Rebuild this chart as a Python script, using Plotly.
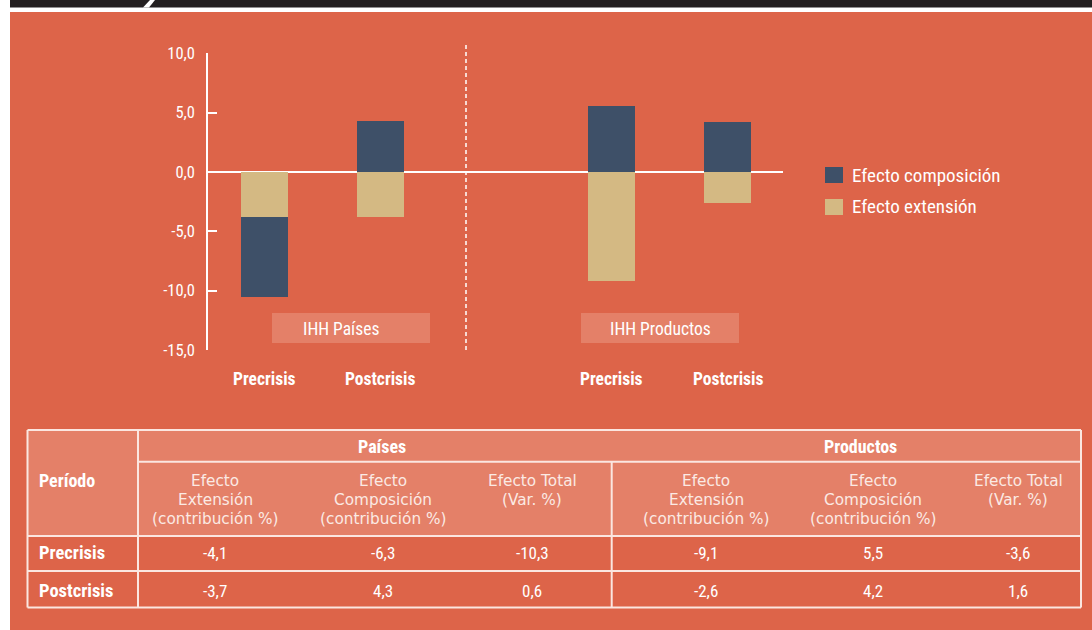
import plotly.graph_objects as go

W, H = 1092, 630

# ---------------- data ----------------
bar_labels = ["Precrisis", "Postcrisis", "Precrisis", "Postcrisis"]
bar_pos = [0, 1, 3, 4]
group_labels = ["IHH Países", "IHH Productos"]
efecto_extension = [-3.8, -3.8, -9.2, -2.6]
efecto_composicion = [-6.8, 4.3, 5.5, 4.2]
y_ticks = [-15, -10, -5, 0, 5, 10]

table_periods = ["Precrisis", "Postcrisis"]
table_groups = ["Países", "Productos"]
table_subheaders = ["Efecto|Extensión|(contribución %)",
                    "Efecto|Composición|(contribución %)",
                    "Efecto Total|(Var. %)"]
paises_extension = [-4.1, -3.7]
paises_composicion = [-6.3, 4.3]
paises_total = [-10.3, 0.6]
productos_extension = [-9.1, -2.6]
productos_composicion = [5.5, 4.2]
productos_total = [-3.6, 1.6]

# ---------------- styles ----------------
BG = "#DD6449"
LIGHT = "#E48068"
NAVY = "#3E5068"
TAN = "#D4B983"
DARK = "#231F20"
WHITE = "#FFFFFF"
NARROW = "Roboto Condensed, Liberation Sans Narrow, sans-serif"
REG = "DejaVu Sans, Liberation Sans, sans-serif"


def fmt(v):
    return f"{v:.1f}".replace(".", ",")


def px(x):
    return x / W


def py(y):
    return 1 - y / H


fig = go.Figure()
fig.add_trace(go.Bar(x=bar_pos, y=efecto_extension, name="Efecto extensión",
                     marker=dict(color=TAN, line=dict(width=0)), width=0.406, hoverinfo="skip"))
fig.add_trace(go.Bar(x=bar_pos, y=efecto_composicion, name="Efecto composición",
                     marker=dict(color=NAVY, line=dict(width=0)), width=0.406, hoverinfo="skip"))

shapes = []
annotations = []

# background panels
shapes.append(dict(type="rect", xref="paper", yref="paper", x0=px(10), x1=1, y0=0, y1=py(12),
                   fillcolor=BG, line=dict(width=0), layer="below"))
shapes.append(dict(type="rect", xref="paper", yref="paper", x0=px(10), x1=1, y0=py(7.5), y1=1,
                   fillcolor=DARK, line=dict(width=0), layer="below"))
shapes.append(dict(type="path", xref="paper", yref="paper",
                   path=f"M {px(143)} {py(7.6)} L {px(149)} {py(7.6)} L {px(155)} {py(0)} L {px(150)} {py(0)} Z",
                   fillcolor=WHITE, line=dict(width=0), layer="below"))

# group label boxes
box_px = [(272, 430), (581, 739)]
text_cx = [341, 660]
for (x0, x1), cx, lab in zip(box_px, text_cx, group_labels):
    shapes.append(dict(type="rect", xref="paper", yref="paper", x0=px(x0), x1=px(x1),
                       y0=py(343), y1=py(313), fillcolor=LIGHT, line=dict(width=0), layer="below"))
    annotations.append(dict(xref="paper", yref="paper", x=px(cx), y=py(329), text=lab,
                            showarrow=False, font=dict(family=NARROW, size=17.5, color=WHITE),
                            xanchor="center", yanchor="middle"))

# dashed separator
shapes.append(dict(type="line", xref="paper", yref="paper", x0=px(466), x1=px(466),
                   y0=py(350), y1=py(45), line=dict(color=WHITE, width=1.5, dash="4px,3px")))

# category labels under bars
for xp, lab in zip(bar_pos, bar_labels):
    annotations.append(dict(xref="x", yref="paper", x=xp, y=py(379), text=f"<b>{lab}</b>",
                            showarrow=False, font=dict(family=NARROW, size=17.5, color=WHITE),
                            xanchor="center", yanchor="middle"))

# legend
leg = [("Efecto composición", NAVY, 175), ("Efecto extensión", TAN, 207)]
for name, col, yc in leg:
    shapes.append(dict(type="rect", xref="paper", yref="paper", x0=px(825), x1=px(843),
                       y0=py(yc + 8), y1=py(yc - 8), fillcolor=col, line=dict(width=0)))
    annotations.append(dict(xref="paper", yref="paper", x=px(850), y=py(yc), text=name,
                            showarrow=False, font=dict(family=NARROW, size=19, color=WHITE),
                            xanchor="left", yanchor="middle"))

# ---------------- table ----------------
TL, TR = 27.5, 1081
T_top, T_h1, T_h2, T_r1, T_bot = 430, 461.7, 536, 571, 607.5
X_div1, X_div2 = 138, 611.7
shapes.append(dict(type="rect", xref="paper", yref="paper", x0=px(TL), x1=px(TR),
                   y0=py(T_h2), y1=py(T_top), fillcolor=LIGHT, line=dict(width=0), layer="below"))
LINE = dict(color="#FBE6E0", width=2)


def hline(y, x0, x1):
    shapes.append(dict(type="line", xref="paper", yref="paper", x0=px(x0), x1=px(x1),
                       y0=py(y), y1=py(y), line=LINE))


def vline(x, y0, y1):
    shapes.append(dict(type="line", xref="paper", yref="paper", x0=px(x), x1=px(x),
                       y0=py(y0), y1=py(y1), line=LINE))


hline(T_top, TL, TR)
hline(T_h1, X_div1, TR)
hline(T_h2, TL, TR)
hline(T_r1, TL, TR)
hline(T_bot, TL, TR)
vline(TL, T_top, T_bot)
vline(TR, T_top, T_bot)
vline(X_div1, T_top, T_bot)
vline(X_div2, T_h1, T_bot)

annotations.append(dict(xref="paper", yref="paper", x=px(37), y=py(480), text="<b>Período</b>",
                        showarrow=False, font=dict(family=NARROW, size=18, color=WHITE),
                        xanchor="left", yanchor="middle"))
for g, cx in zip(table_groups, [382, 860]):
    annotations.append(dict(xref="paper", yref="paper", x=px(cx), y=py(446.5), text=f"<b>{g}</b>",
                            showarrow=False, font=dict(family=NARROW, size=18, color=WHITE),
                            xanchor="center", yanchor="middle"))

col_cx = [215, 383, 532, 706, 873, 1018]
for i, cx in enumerate(col_cx):
    lines = table_subheaders[i % 3].split("|")
    for j, ln in enumerate(lines):
        annotations.append(dict(xref="paper", yref="paper", x=px(cx), y=py(481 + 19.2 * j), text=ln,
                                showarrow=False, font=dict(family=REG, size=15.3, color="#FBEAE4"),
                                xanchor="center", yanchor="middle"))

row_y = [553, 591]
cols = [paises_extension, paises_composicion, paises_total,
        productos_extension, productos_composicion, productos_total]
for r, (per, yc) in enumerate(zip(table_periods, row_y)):
    annotations.append(dict(xref="paper", yref="paper", x=px(37), y=py(yc), text=f"<b>{per}</b>",
                            showarrow=False, font=dict(family=NARROW, size=18.5, color=WHITE),
                            xanchor="left", yanchor="middle"))
    for cx, col in zip(col_cx, cols):
        annotations.append(dict(xref="paper", yref="paper", x=px(cx), y=py(yc), text=fmt(col[r]),
                                showarrow=False, font=dict(family=NARROW, size=17, color=WHITE),
                                xanchor="center", yanchor="middle"))

fig.update_layout(
    width=W, height=H,
    margin=dict(l=0, r=0, t=0, b=0, autoexpand=False),
    paper_bgcolor=WHITE,
    plot_bgcolor="rgba(0,0,0,0)",
    barmode="relative",
    bargap=0,
    showlegend=False,
    shapes=shapes,
    annotations=annotations,
    xaxis=dict(domain=[px(208), px(783)], range=[-0.488, 4.479], showgrid=False, automargin=False,
               zeroline=False, showline=False, showticklabels=False, ticks="", fixedrange=True),
    yaxis=dict(domain=[py(350), py(53.3)], range=[-15, 10], tickvals=y_ticks,
               ticktext=[fmt(v) for v in y_ticks], showgrid=False, automargin=False,
               zeroline=True, zerolinecolor=WHITE, zerolinewidth=1.5,
               showline=True, linecolor=WHITE, linewidth=1.5,
               ticks="inside", ticklen=9, tickcolor=WHITE, tickwidth=1.5,
               ticklabelstandoff=8, fixedrange=True,
               tickfont=dict(family=NARROW, size=16.5, color=WHITE)),
)

fig.write_html("out.html", config={"displayModeBar": False},
               post_script="document.body.style.margin='0';document.body.style.overflow='hidden';")
